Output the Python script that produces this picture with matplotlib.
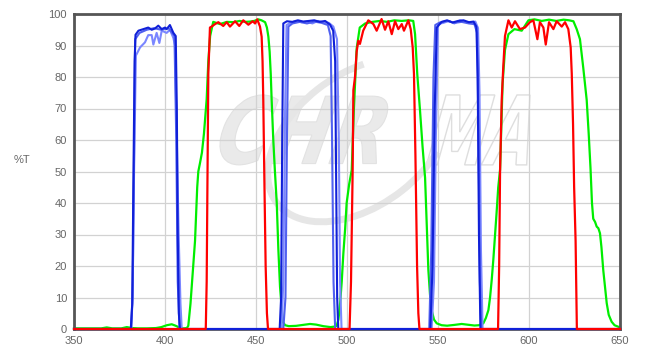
import matplotlib
matplotlib.use("Agg")
import matplotlib.pyplot as plt
from matplotlib.textpath import TextPath
from matplotlib.font_manager import FontProperties
from matplotlib.patches import PathPatch, Arc
from matplotlib.path import Path
import numpy as np

# ---------------- data ----------------
x_ticks = [350, 400, 450, 500, 550, 600, 650]
y_ticks = [0, 10, 20, 30, 40, 50, 60, 70, 80, 90, 100]

blue_dark_x = [350, 381.2, 382.0, 382.6, 383.3, 383.8, 385.4, 388.1, 390.8, 392.7, 394.5, 396.3, 398.2, 400.0, 400.9,
               402.7, 404.6, 405.9, 406.5, 407.0, 407.6, 408.2,
               463.0, 463.8, 464.4, 465.0, 467, 470, 473, 476, 479, 482, 485, 488, 490.7, 492.4, 493.5, 494.0, 494.6, 495.2,
               545.8, 547.0, 548.2, 549.3, 552, 555, 558, 561, 564, 567, 569.5, 571.1, 571.8, 572.5, 573.3, 650]
blue_dark_y = [0, 0, 8, 45, 85, 93.4, 94.7, 95.2, 95.7, 95.0, 95.4, 96.3, 95.2, 95.7, 95.2,
               96.5, 94.0, 93.0, 70, 30, 5, 0,
               0, 10, 60, 97.0, 97.7, 97.5, 98, 97.6, 97.8, 98, 97.5, 97.8, 96.6, 94.7, 85, 50, 10, 0,
               0, 20, 70, 95.7, 97.5, 98, 97.3, 97.8, 98, 97.4, 97.6, 96, 80, 30, 0, 0]

blue_light1_x = [350, 381.5, 382.3, 383.0, 384.0, 386.3, 389.0, 390.8, 392.7, 393.6, 395.4, 396.9, 398.2, 400.9, 402.7,
                 404.6, 405.5, 406.5, 407.5, 408.5, 409.2,
                 464.0, 465.0, 466.0, 466.8, 469, 472, 475, 478, 481, 484, 487, 490, 492.5, 494.5, 495.5, 496.2, 497.0,
                 546.5, 547.8, 548.8, 550.0, 553, 556, 559, 562, 565, 568, 570.5, 572.0, 572.8, 573.6, 574.5, 650]
blue_light1_y = [0, 0, 15, 50, 86.8, 89.4, 91.0, 93.3, 93.3, 90.3, 94.0, 90.8, 94.7, 94.0, 95.0,
                 92.4, 90, 60, 30, 8, 0,
                 0, 15, 70, 96.5, 97.2, 97.8, 97.4, 97.6, 97.0, 97.8, 97.4, 97.2, 96, 92, 60, 15, 0,
                 0, 15, 60, 96.8, 97.2, 97.8, 97.0, 98, 97.5, 97.2, 97.6, 95.5, 75, 25, 0, 0]

blue_light2_x = [350, 381.4, 382.2, 382.9, 383.6, 386, 390, 394, 398, 402, 405.2, 406.2, 407, 408,
                 465.0, 466.2, 467.0, 467.8, 470, 474, 478, 482, 486, 489.5, 491.0, 491.8, 492.6, 493.5,
                 545.2, 546.3, 547.5, 548.5, 551, 555, 559, 563, 567, 570, 571.5, 572.3, 573.0, 573.8, 650]
blue_light2_y = [0, 0, 10, 50, 92, 94, 95, 95.5, 95, 95.5, 93, 60, 15, 0,
                 0, 10, 60, 96.0, 97.0, 97.5, 97.0, 97.6, 97.2, 96.5, 93, 60, 15, 0,
                 0, 25, 80, 96.5, 97.3, 97.8, 97.2, 97.5, 97.0, 96.8, 94, 60, 15, 0, 0]

red_x = [350, 422.4, 422.9, 423.3, 423.8, 424.7, 425.6, 427.5, 429.3, 432.0, 433.9, 435.7, 438.5, 440.8, 443.0,
         445.8, 448.2, 449.5, 450.7, 452.2, 453.1, 453.6, 454.0, 454.6, 455.3, 456.0, 456.6,
         501.4, 502.2, 503.1, 503.5, 504.4, 505.3, 506.2, 507.1, 508.9, 511.7, 514.5, 516.3, 519.0, 520.9, 522.7,
         524.6, 526.4, 528.2, 530.1, 531.3, 533.7, 535.0, 536.1, 536.8, 537.6, 538.5, 539.2, 539.8,
         583.0, 583.6, 584.1, 585.0, 585.9, 586.8, 588.7, 590.5, 592.3, 595.0, 597.8, 600.5, 602.4, 604.6, 606.0,
         607.9, 609.2, 611.0, 613.4, 615.2, 618.0, 619.8, 621.6, 622.9, 623.5, 624.2, 624.8, 625.6, 626.3, 650]
red_y = [0, 0, 15, 45, 81, 95.7, 96.0, 96.8, 97.4, 96.2, 97.4, 96.0, 97.7, 96.2, 98.0,
         96.6, 97.7, 97.0, 98.3, 96.0, 92.8, 85, 72.7, 47.3, 20, 5, 0,
         0, 15, 50, 75.8, 80, 88, 91.5, 90.5, 94.7, 98.0, 96.8, 94.7, 98.4, 95.0, 97.7,
         93.6, 97.7, 95.2, 96.8, 94.7, 98.0, 95.2, 89.4, 81, 55, 20, 5, 0,
         0, 20, 50, 72.7, 83.6, 93, 98.0, 95.7, 97.7, 95.2, 95.7, 97.4, 98.0, 92.0, 97.4,
         95.7, 90.3, 97.4, 95.2, 97.7, 96.0, 97.4, 95.2, 89.4, 81, 65, 45, 28, 0, 0]

green_x = [350, 365, 368, 371, 376, 379, 382, 385, 390, 395, 398, 401, 403.7, 406, 408, 410, 412, 412.8, 414,
           415.5, 416.5, 417.2, 417.7, 418.3, 419.2, 420.3, 421.4, 422.2, 422.9, 423.8, 424.8, 426.5, 430.2, 434,
           437.5, 441, 444, 446.7, 449, 451.3, 453, 455, 456.0, 456.8, 457.5, 458.1, 458.6, 459.5, 460.4, 461.4,
           462.3, 463.2, 464.7, 466, 468, 472, 476, 479.7, 483, 487, 491, 493.5, 494.3, 495.3, 496.2, 497.1,
           498.0, 499.0, 499.8, 501.2, 502.6, 503.8, 505.3, 507.0, 510, 514, 518, 522, 526, 530, 534, 536.4,
           537.4, 538.6, 540.1, 541.5, 542.9, 543.8, 544.7, 545.6, 546.5, 547.8, 549.3, 552, 555, 559, 563, 567,
           570, 572.5, 574.9, 576.3, 577.7, 578.6, 579.5, 580.4, 581.3, 582.2, 583.1, 584.1, 585.5, 586.8,
           588.7, 592, 596, 599.7, 603, 607, 611, 615, 619, 622, 624.4, 626.2, 628.0, 629.8, 631.7, 632.8,
           633.8, 634.6, 635.3, 636.3, 637.2, 638.1, 639.0, 639.8, 640.8, 641.8, 642.7, 643.8, 645.4, 647,
           649.1, 650]
green_y = [0.2, 0.2, 0.5, 0.2, 0.2, 0.6, 0.3, 0.2, 0.2, 0.3, 0.6, 1.2, 1.5, 1.0, 0.4, 0.2, 0.3, 1, 8,
           20, 28, 38, 45, 50, 52.6, 56, 62, 68, 73, 85, 93, 97.5, 96.8, 97.5,
           97.4, 97.8, 97.5, 97.6, 97.8, 98.3, 98, 97.4, 95.7, 92.8, 88, 81, 72.7, 60, 50, 40,
           25, 13.4, 2.3, 1.2, 0.9, 1.0, 1.3, 1.6, 1.4, 0.9, 0.6, 0.8, 1.0, 3, 8, 15,
           24, 32, 40, 46, 50.5, 70, 89, 95.7, 97, 97.5, 97.8, 97.5, 98, 97.8, 98, 97.8,
           93.6, 81, 69.5, 58, 48, 33, 18.7, 11, 6, 3, 1.8, 1.2, 1.05, 1.3, 1.6, 1.3,
           1.1, 1.2, 1.8, 3.5, 6, 10, 15.5, 22, 29.3, 37, 45, 50.5, 78, 88.6,
           93.6, 95.2, 94.7, 98, 98.3, 97.8, 98.2, 97.8, 98.2, 98, 97.7, 95.2, 92, 83, 72.7, 62,
           51, 40, 35, 34, 32.5, 32, 30.4, 26, 18.7, 13, 8.2, 4.5, 2.3, 1.2,
           0.7, 0.5]

# ---------------- figure ----------------
plt.rcParams['font.family'] = ['Liberation Sans', 'DejaVu Sans']
fig = plt.figure(figsize=(6.52, 3.54), dpi=100)
ax = fig.add_axes([74 / 652, 25 / 354, 546 / 652, 315 / 354])

ax.set_xlim(350, 650)
ax.set_ylim(0, 100)
ax.set_xticks(x_ticks)
ax.set_yticks(y_ticks)
ax.grid(True, color='#d2d2d2', lw=0.9, zorder=0)
ax.set_axisbelow(True)
ax.tick_params(length=0, labelsize=8, colors='#666666', pad=5)
for s in ['top', 'left', 'right', 'bottom']:
    ax.spines[s].set_color('#555555')
    ax.spines[s].set_linewidth(2.0)

# watermark (CHROMA logo approximation)
fp = FontProperties(family='DejaVu Sans', weight='bold', style='italic')


def place_text(txt, box, shear, **kw):
    tp = TextPath((0, 0), txt, size=1, prop=fp)
    v = tp.vertices.copy()
    v[:, 0] = v[:, 0] + shear * v[:, 1]
    xmin, ymin = v.min(axis=0)
    xmax, ymax = v.max(axis=0)
    x0, x1, y0, y1 = box
    v[:, 0] = x0 + (v[:, 0] - xmin) / (xmax - xmin) * (x1 - x0)
    v[:, 1] = y0 + (v[:, 1] - ymin) / (ymax - ymin) * (y1 - y0)
    ax.add_patch(PathPatch(Path(v, tp.codes), zorder=0.5, **kw))


place_text("CHR", (426.4, 523.0, 52.1, 74.3), 0.25, facecolor='#eaeaea', edgecolor='#e2e2e2', lw=0.8)
place_text("MA", (543.0, 600.5, 52.1, 74.3), 0.25, facecolor='none', edgecolor='#dedede', lw=1.0)
ax.add_patch(Arc((507, 60), 104, 46, angle=15, theta1=70, theta2=340,
                 color='#e6e6e6', lw=5, zorder=0.5))

ax.plot(green_x, green_y, color='#00ee00', lw=1.6, zorder=2, clip_on=False)
ax.plot(blue_light1_x, blue_light1_y, color='#7a86ff', lw=1.5, zorder=3, clip_on=False)
ax.plot(blue_light2_x, blue_light2_y, color='#5060f0', lw=1.5, zorder=3, clip_on=False)
ax.plot(blue_dark_x, blue_dark_y, color='#1020d8', lw=1.5, zorder=3.5, clip_on=False)
ax.plot(red_x, red_y, color='#ff0000', lw=1.6, zorder=4, clip_on=False)

fig.text(22 / 652, 1 - 160 / 354, '%T', fontsize=8, color='#666666', ha='center', va='center')

fig.savefig('out.png', dpi=100)
